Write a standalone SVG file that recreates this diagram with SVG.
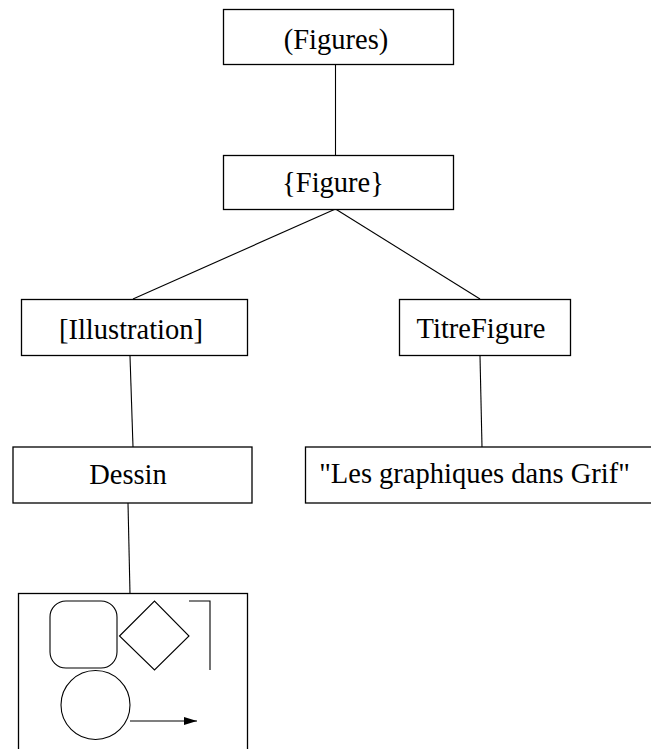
<svg xmlns="http://www.w3.org/2000/svg" width="651" height="749" viewBox="0 0 651 749">
<style>
.box{fill:#fff;stroke:#000;stroke-width:1.3}
.ln{fill:none;stroke:#000;stroke-width:1.1}
.t{font-family:"Liberation Serif","Times New Roman",serif;font-size:28.5px;fill:#000;text-anchor:middle}
.sh{fill:none;stroke:#000;stroke-width:1.1}
</style>
<defs>
<marker id="ah" markerWidth="14" markerHeight="10" refX="13" refY="4" orient="auto" markerUnits="userSpaceOnUse">
<path d="M0,0 L13,4 L0,8 Z" fill="#000"/>
</marker>
</defs>
<rect width="651" height="749" fill="#fff"/>
<g id="connectors">
<line class="ln" x1="335.5" y1="64" x2="335.5" y2="156"/>
<line class="ln" x1="335.5" y1="209" x2="133" y2="299"/>
<line class="ln" x1="335.5" y1="209" x2="480" y2="299"/>
<line class="ln" x1="130" y1="356" x2="133" y2="447"/>
<line class="ln" x1="480" y1="356" x2="482" y2="447"/>
<line class="ln" x1="128" y1="503" x2="130" y2="594"/>
</g>
<g id="figures">
<rect class="box" x="223.5" y="9.5" width="230" height="55"/>
<text class="t" x="336" y="49">(Figures)</text>
</g>
<g id="figure">
<rect class="box" x="223.5" y="155.5" width="230" height="54"/>
<text class="t" x="333" y="191.5">{Figure}</text>
</g>
<g id="illustration">
<rect class="box" x="21.5" y="299.5" width="226" height="56"/>
<text class="t" x="131" y="339">[Illustration]</text>
</g>
<g id="titrefigure">
<rect class="box" x="399.5" y="299.5" width="171" height="56"/>
<text class="t" x="481" y="337.5">TitreFigure</text>
</g>
<g id="dessin">
<rect class="box" x="13" y="447" width="239" height="56"/>
<text class="t" x="128" y="484">Dessin</text>
</g>
<g id="chaine">
<rect class="box" x="305.5" y="447" width="360" height="56"/>
<text class="t" x="474.5" y="483">"Les graphiques dans Grif"</text>
</g>
<g id="drawing">
<rect class="box" x="18.5" y="593.5" width="229" height="170"/>
<rect class="sh" x="50" y="601" width="67" height="67" rx="16"/>
<polygon class="sh" points="119.5,636 154.5,601 189,636 154.5,670"/>
<polyline class="sh" points="189,601 210,601 210,670"/>
<circle class="sh" cx="95.5" cy="705" r="34.5"/>
<line class="sh" x1="130" y1="721" x2="197" y2="721" marker-end="url(#ah)"/>
</g>
</svg>
